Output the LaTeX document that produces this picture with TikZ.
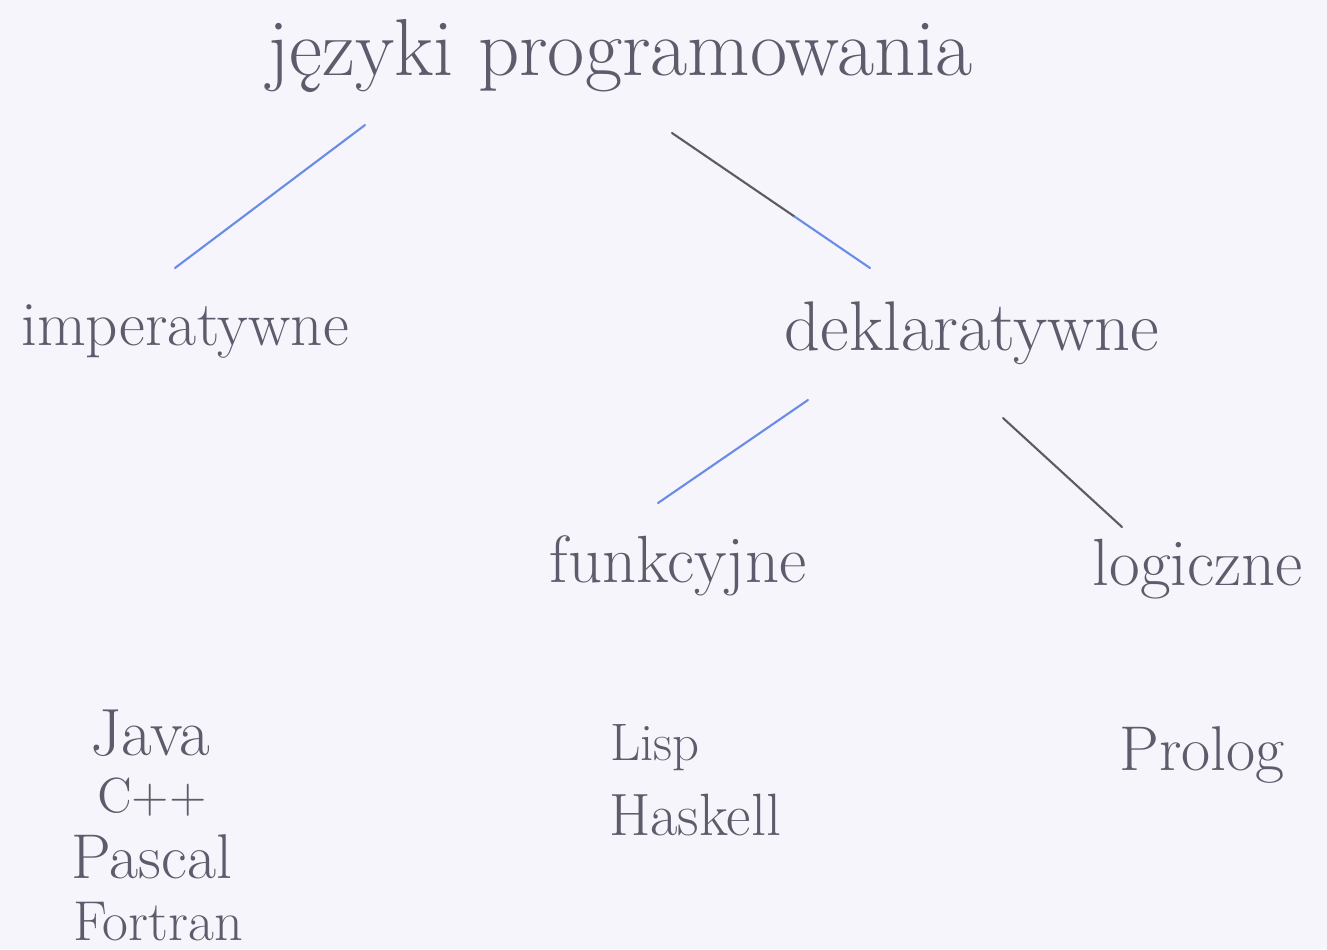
\documentclass[tikz,border=0pt]{standalone}
\usepackage{tikz}
\usetikzlibrary{calc}

\definecolor{paper}{RGB}{246,245,251}
\definecolor{ink}{RGB}{92,92,108}
\definecolor{bluepenc}{RGB}{106,140,232}
\definecolor{graypenc}{RGB}{92,92,96}

\begin{document}
\begin{tikzpicture}[
  word/.style={anchor=base, inner sep=0pt, text=ink, font=\fontsize{#1}{#1}\selectfont},
  bluepen/.style={draw=bluepenc, line width=0.6pt, line cap=round},
  graypen/.style={draw=graypenc, line width=0.6pt, line cap=round}
]
\fill[paper] (0,0) rectangle (13.27,-9.49);
\useasboundingbox (0,0) rectangle (13.27,-9.49);

% tree
\node[word=23] (title) at (6.2,-0.75) {języki programowania};
\node[word=18] (imp) at (1.85,-3.45) {imperatywne};
\node[word=20] (dek) at (9.72,-3.50) {deklaratywne};
\node[word=19] (fun) at (6.78,-5.82) {funkcyjne};
\node[word=19] (log) at (11.98,-5.85) {logiczne};

% examples
\node[word=19] (java) at (1.50,-7.55) {Java};
\node[word=14] (cpp) at (1.52,-8.12) {C++};
\node[word=18] (pascal) at (1.52,-8.78) {Pascal};
\node[word=16] (fortran) at (1.58,-9.40) {Fortran};
\node[word=15] (lisp) at (6.55,-7.60) {Lisp};
\node[word=17] (haskell) at (6.95,-8.35) {Haskell};
\node[word=18] (prolog) at (12.02,-7.70) {Prolog};

\draw[bluepen] ([shift={(-2.55,-0.5)}]title.base) -- ([shift={(-0.1,0.77)}]imp.base);
\draw[graypen] ([shift={(0.52,-0.58)}]title.base) -- ($([shift={(0.52,-0.58)}]title.base)!0.62!([shift={(-1.02,0.82)}]dek.base)$);
\draw[bluepen] ($([shift={(0.52,-0.58)}]title.base)!0.62!([shift={(-1.02,0.82)}]dek.base)$) -- ([shift={(-1.02,0.82)}]dek.base);
\draw[bluepen] ([shift={(-1.64,-0.5)}]dek.base) -- ([shift={(-0.2,0.79)}]fun.base);
\draw[graypen] ([shift={(0.31,-0.68)}]dek.base) -- ([shift={(-0.76,0.58)}]log.base);
\end{tikzpicture}
\end{document}
